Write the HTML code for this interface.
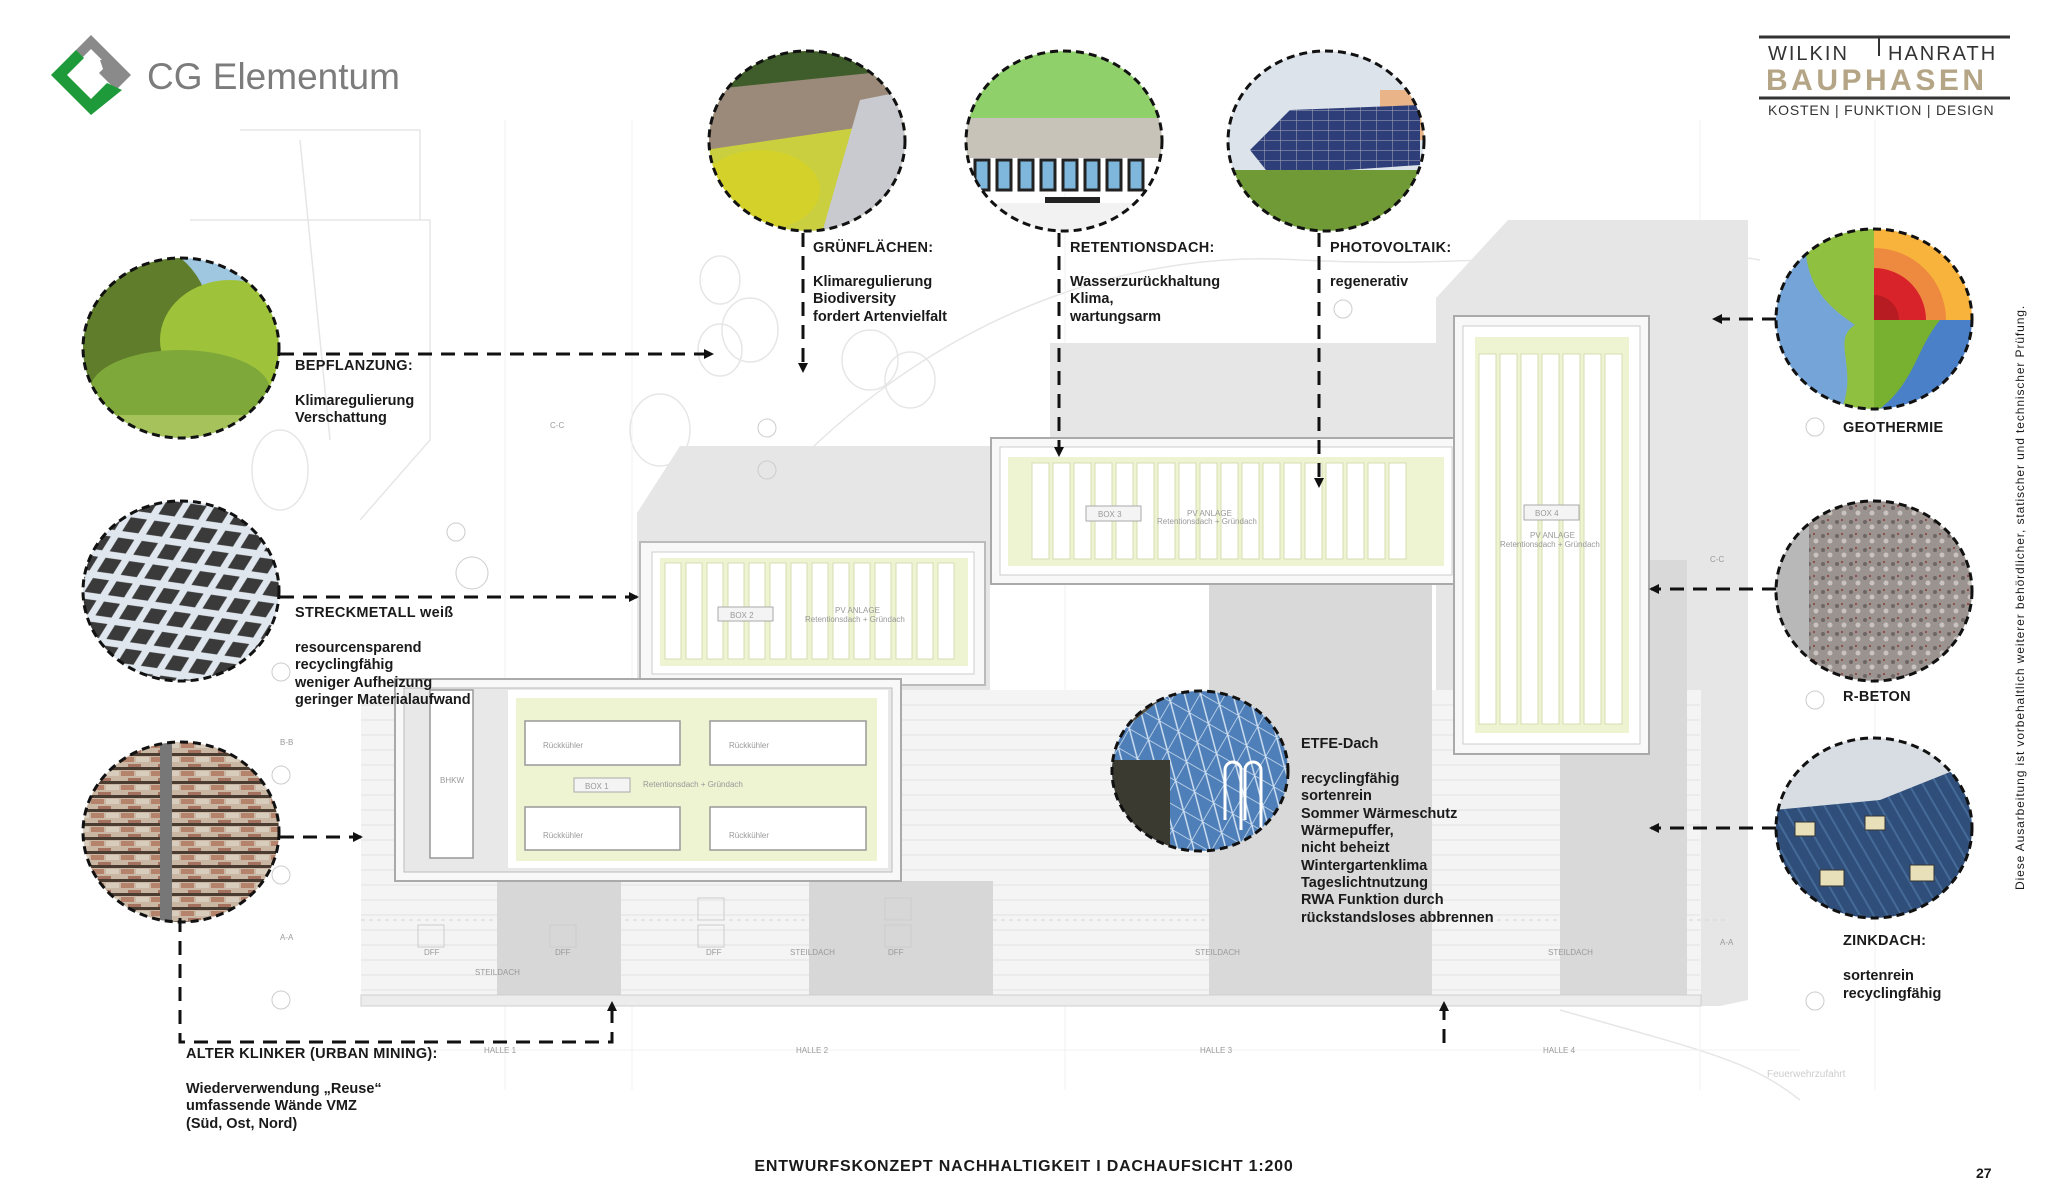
<!DOCTYPE html>
<html><head><meta charset="utf-8"><style>
html,body{margin:0;padding:0;background:#fff;}
svg{display:block}
text{font-family:"Liberation Sans",sans-serif;}
.t{font-size:14.5px;font-weight:bold;fill:#1a1a1a}
.h{font-size:14.5px;font-weight:bold;fill:#1a1a1a;letter-spacing:0.3px}
.d{stroke:#111;stroke-width:3;stroke-dasharray:14 9;fill:none}
.c{fill:none;stroke:#111;stroke-width:3;stroke-dasharray:8 5}
.g{font-size:8px;fill:#999}
</style></head><body>
<svg width="2048" height="1195" viewBox="0 0 2048 1195" xmlns="http://www.w3.org/2000/svg">
<defs>
<marker id="a" markerWidth="10" markerHeight="10" refX="8" refY="5" orient="auto" markerUnits="userSpaceOnUse"><path d="M0,0 L10,5 L0,10 z" fill="#111"/></marker>
<pattern id="mesh" width="40" height="26" patternUnits="userSpaceOnUse" patternTransform="rotate(-25)"><rect width="40" height="26" fill="#3a3a3a"/><path d="M0,13 L20,0 L40,13 L20,26 Z" fill="none" stroke="#dfe6ee" stroke-width="7"/></pattern>
<pattern id="brick" width="30" height="14" patternUnits="userSpaceOnUse"><rect width="30" height="14" fill="#c9b7a3"/><rect x="1" y="1" width="13" height="5" fill="#b5826c"/><rect x="16" y="1" width="13" height="5" fill="#d8ccbd"/><rect x="8" y="8" width="13" height="5" fill="#a67260"/><rect x="0" y="11" width="30" height="3" fill="#4a3c30"/></pattern>
<pattern id="pv" width="16" height="10" patternUnits="userSpaceOnUse"><rect width="16" height="10" fill="#2d3e78"/><path d="M0,0H16M0,0V10" stroke="#aab" stroke-width="1"/></pattern>
<pattern id="conc" width="14" height="14" patternUnits="userSpaceOnUse"><rect width="14" height="14" fill="#9a9390"/><circle cx="3" cy="4" r="2" fill="#6e6664"/><circle cx="10" cy="9" r="2.5" fill="#c9c3bf"/><circle cx="8" cy="2" r="1" fill="#8a3a33"/></pattern>
<pattern id="zinc" width="12" height="12" patternUnits="userSpaceOnUse" patternTransform="rotate(-30)"><rect width="12" height="12" fill="#2f4f7a"/><rect width="2" height="12" fill="#456a97"/></pattern>
<pattern id="glass" width="22" height="22" patternUnits="userSpaceOnUse" patternTransform="rotate(30)"><rect width="22" height="22" fill="#4f7fb8"/><path d="M0,0H22M0,0V22M0,0L22,22" stroke="#cfe0f2" stroke-width="1.5"/></pattern>
<clipPath id="c1"><ellipse cx="181" cy="348" rx="98" ry="90"/></clipPath>
<clipPath id="c2"><ellipse cx="181" cy="591" rx="98" ry="90"/></clipPath>
<clipPath id="c3"><ellipse cx="181" cy="832" rx="98" ry="90"/></clipPath>
<clipPath id="c4"><ellipse cx="807" cy="141" rx="98" ry="90"/></clipPath>
<clipPath id="c5"><ellipse cx="1064" cy="141" rx="98" ry="90"/></clipPath>
<clipPath id="c6"><ellipse cx="1326" cy="141" rx="98" ry="90"/></clipPath>
<clipPath id="c7"><ellipse cx="1874" cy="319" rx="98" ry="90"/></clipPath>
<clipPath id="c8"><ellipse cx="1874" cy="591" rx="98" ry="90"/></clipPath>
<clipPath id="c9"><ellipse cx="1874" cy="828" rx="98" ry="90"/></clipPath>
<clipPath id="c10"><ellipse cx="1200" cy="771" rx="88" ry="80"/></clipPath>
</defs>

<g stroke="#e6e6e6" fill="none" stroke-width="1.5">
<path d="M190,220 L430,220 L430,440 L360,520"/><path d="M300,140 L330,440"/>
<path d="M240,130 L420,130 L420,220"/>
<path d="M780,480 C950,300 1150,250 1300,260 C1500,270 1650,240 1760,260"/>
<ellipse cx="750" cy="330" rx="28" ry="32"/><ellipse cx="720" cy="350" rx="22" ry="26"/><ellipse cx="870" cy="360" rx="28" ry="30"/><ellipse cx="910" cy="380" rx="25" ry="28"/>
<ellipse cx="660" cy="430" rx="30" ry="36"/><ellipse cx="280" cy="470" rx="28" ry="40"/><ellipse cx="720" cy="280" rx="20" ry="24"/>
<path d="M1560,1010 C1700,1050 1750,1060 1800,1100"/>
</g>
<g stroke="#f0f0f0" stroke-width="1"><path d="M505,120V1090M632,120V1090M1065,120V1090M1700,120V1090M1875,120V1090M361,1050H1800"/></g>

<polygon points="680,446 1050,446 1050,343 1436,343 1436,298 1508,220 1748,220 1748,1000 1720,1006 1436,1006 1436,580 990,580 990,690 637,690 637,513" fill="#e6e6e6"/>
<rect x="361" y="690" width="1340" height="316" fill="#f4f4f4"/>
<g stroke="#e2e2e2" stroke-width="1">
<path d="M361,705H1700M361,720H1700M361,735H1700M361,750H1700M361,765H1700M361,780H1700M361,795H1700M361,810H1700M361,825H1700M361,840H1700M361,855H1700M361,870H1700M361,885H1700M361,900H1700M361,915H1700M361,930H1700M361,945H1700M361,960H1700M361,975H1700M361,990H1700"/>
</g>
<rect x="497" y="881" width="124" height="125" fill="#d7d7d7"/>
<rect x="809" y="881" width="184" height="125" fill="#d7d7d7"/>
<rect x="1209" y="560" width="223" height="446" fill="#d9d9d9"/>
<rect x="1560" y="560" width="127" height="446" fill="#d9d9d9"/>
<rect x="361" y="995" width="1340" height="11" fill="#ececec" stroke="#cfcfcf"/>
<path d="M361,920H1730" stroke="#d5d5d5" stroke-dasharray="4 4"/>
<g class="g"><text x="280" y="940">A-A</text><text x="280" y="745">B-B</text><text x="550" y="428">C-C</text><text x="1710" y="562">C-C</text><text x="1720" y="945">A-A</text>
<text x="475" y="975">STEILDACH</text><text x="790" y="955">STEILDACH</text><text x="1195" y="955">STEILDACH</text><text x="1548" y="955">STEILDACH</text>
<text x="424" y="955">DFF</text><text x="555" y="955">DFF</text><text x="706" y="955">DFF</text><text x="888" y="955">DFF</text>
<text x="484" y="1053">HALLE 1</text><text x="796" y="1053">HALLE 2</text><text x="1200" y="1053">HALLE 3</text><text x="1543" y="1053">HALLE 4</text>
<text x="1767" y="1077" font-size="10" fill="#ccc">Feuerwehrzufahrt</text></g>
<g fill="none" stroke="#ccc"><rect x="418" y="925" width="26" height="22"/><rect x="550" y="925" width="26" height="22"/><rect x="698" y="925" width="26" height="22"/><rect x="885" y="925" width="26" height="22"/><rect x="698" y="898" width="26" height="22"/><rect x="885" y="898" width="26" height="22"/>
<circle cx="281" cy="1000" r="9"/><circle cx="281" cy="875" r="9"/><circle cx="281" cy="775" r="9"/><circle cx="281" cy="672" r="9"/><circle cx="456" cy="532" r="9"/><circle cx="767" cy="470" r="9"/><circle cx="767" cy="428" r="9"/><circle cx="1815" cy="427" r="9"/><circle cx="1815" cy="700" r="9"/><circle cx="1815" cy="1001" r="9"/><circle cx="1343" cy="309" r="9"/><circle cx="472" cy="573" r="16"/></g>

<rect x="640" y="542" width="345" height="143" fill="#f8f8f8" stroke="#bbb" stroke-width="2"/>
<rect x="652" y="552" width="322" height="122" fill="#fff" stroke="#ccc"/>
<rect x="660" y="558" width="308" height="108" fill="#eef3d2"/>
<g fill="#fff" stroke="#d7dcb0"><rect x="665" y="563" width="16" height="96"/><rect x="686" y="563" width="16" height="96"/><rect x="707" y="563" width="16" height="96"/><rect x="728" y="563" width="16" height="96"/><rect x="749" y="563" width="16" height="96"/><rect x="770" y="563" width="16" height="96"/><rect x="791" y="563" width="16" height="96"/><rect x="812" y="563" width="16" height="96"/><rect x="833" y="563" width="16" height="96"/><rect x="854" y="563" width="16" height="96"/><rect x="875" y="563" width="16" height="96"/><rect x="896" y="563" width="16" height="96"/><rect x="917" y="563" width="16" height="96"/><rect x="938" y="563" width="16" height="96"/></g>
<rect x="718" y="607" width="55" height="14" fill="#f4f4f4" stroke="#aaa"/><text x="730" y="618" class="g" font-size="10">BOX 2</text>
<text x="835" y="613" class="g">PV ANLAGE</text><text x="805" y="622" class="g">Retentionsdach + Gründach</text>

<rect x="395" y="679" width="506" height="202" fill="#f8f8f8" stroke="#aaa" stroke-width="2"/>
<rect x="404" y="688" width="488" height="184" fill="#e8e8e8" stroke="#bbb"/>
<rect x="508" y="690" width="380" height="178" fill="#fff"/>
<rect x="516" y="698" width="361" height="163" fill="#eef3d2"/>
<g fill="#fff" stroke="#999" stroke-width="1.5"><rect x="525" y="721" width="155" height="44"/><rect x="710" y="721" width="156" height="44"/><rect x="525" y="807" width="155" height="43"/><rect x="710" y="807" width="156" height="43"/><rect x="430" y="690" width="43" height="168"/></g>
<g class="g" font-size="9"><text x="543" y="748">Rückkühler</text><text x="729" y="748">Rückkühler</text><text x="543" y="838">Rückkühler</text><text x="729" y="838">Rückkühler</text><text x="440" y="783">BHKW</text><text x="643" y="787">Retentionsdach + Gründach</text></g>
<rect x="574" y="778" width="56" height="14" fill="#f4f4f4" stroke="#aaa"/><text x="585" y="789" class="g" font-size="10">BOX 1</text>

<rect x="991" y="438" width="470" height="146" fill="#f8f8f8" stroke="#aaa" stroke-width="2"/>
<rect x="1000" y="447" width="452" height="128" fill="#fff" stroke="#ccc"/>
<rect x="1008" y="457" width="436" height="109" fill="#eef3d2"/>
<g fill="#fff" stroke="#d7dcb0"><rect x="1032" y="463" width="17" height="96"/><rect x="1053" y="463" width="17" height="96"/><rect x="1074" y="463" width="17" height="96"/><rect x="1095" y="463" width="17" height="96"/><rect x="1116" y="463" width="17" height="96"/><rect x="1137" y="463" width="17" height="96"/><rect x="1158" y="463" width="17" height="96"/><rect x="1179" y="463" width="17" height="96"/><rect x="1200" y="463" width="17" height="96"/><rect x="1221" y="463" width="17" height="96"/><rect x="1242" y="463" width="17" height="96"/><rect x="1263" y="463" width="17" height="96"/><rect x="1284" y="463" width="17" height="96"/><rect x="1305" y="463" width="17" height="96"/><rect x="1326" y="463" width="17" height="96"/><rect x="1347" y="463" width="17" height="96"/><rect x="1368" y="463" width="17" height="96"/><rect x="1389" y="463" width="17" height="96"/></g>
<rect x="1086" y="506" width="55" height="15" fill="#f4f4f4" stroke="#aaa"/><text x="1098" y="517" class="g" font-size="10">BOX 3</text>
<text x="1187" y="516" class="g">PV ANLAGE</text><text x="1157" y="524" class="g">Retentionsdach + Gründach</text>

<rect x="1454" y="316" width="195" height="438" fill="#f8f8f8" stroke="#aaa" stroke-width="2"/>
<rect x="1463" y="326" width="177" height="418" fill="#fff" stroke="#ccc"/>
<rect x="1475" y="337" width="154" height="396" fill="#eef3d2"/>
<g fill="#fff" stroke="#d7dcb0"><rect x="1479" y="354" width="17" height="370"/><rect x="1500" y="354" width="17" height="370"/><rect x="1521" y="354" width="17" height="370"/><rect x="1542" y="354" width="17" height="370"/><rect x="1563" y="354" width="17" height="370"/><rect x="1584" y="354" width="17" height="370"/><rect x="1605" y="354" width="17" height="370"/></g>
<rect x="1524" y="505" width="55" height="15" fill="#f4f4f4" stroke="#aaa"/><text x="1535" y="516" class="g" font-size="10">BOX 4</text>
<text x="1530" y="538" class="g">PV ANLAGE</text><text x="1500" y="547" class="g">Retentionsdach + Gründach</text>

<polygon points="91,35 131,75 116,90 99,73 107,65 91,49 77,63 70,56" fill="#8a8a8a"/>
<polygon points="51,75 76,50 84,58 67,75 91,99 107,83 122,90 91,115" fill="#1e9a3a"/>
<polygon points="100,60 116,60 116,72 104,72" fill="#8a8a8a"/>
<text x="147" y="89" font-size="37" fill="#7c7c7c" font-family="Liberation Sans Narrow, Liberation Sans, sans-serif">CG Elementum</text>

<path d="M1759,37H2010M1759,98H2010" stroke="#333" stroke-width="3"/>
<path d="M1879,37V56" stroke="#333" stroke-width="2"/>
<text x="1768" y="60" font-size="20" fill="#333" letter-spacing="2">WILKIN</text>
<text x="1888" y="60" font-size="20" fill="#333" letter-spacing="2">HANRATH</text>
<text x="1766" y="90" font-size="30" font-weight="bold" fill="#b5a587" letter-spacing="3.5">BAUPHASEN</text>
<text x="1768" y="115" font-size="14" fill="#333" letter-spacing="0.8">KOSTEN  |  FUNKTION  |  DESIGN</text>

<g clip-path="url(#c1)"><rect x="80" y="255" width="205" height="190" fill="#9fc8e0"/><ellipse cx="130" cy="320" rx="80" ry="80" fill="#5f7d2a"/><ellipse cx="230" cy="340" rx="70" ry="60" fill="#9ec33a"/><ellipse cx="180" cy="390" rx="90" ry="40" fill="#7fa83a"/><rect x="80" y="415" width="205" height="30" fill="#a6c25a"/></g>
<g clip-path="url(#c2)"><rect x="80" y="500" width="205" height="190" fill="url(#mesh)"/></g>
<g clip-path="url(#c3)"><rect x="80" y="740" width="205" height="190" fill="url(#brick)"/><rect x="160" y="740" width="12" height="190" fill="#777"/></g>
<g clip-path="url(#c4)"><rect x="705" y="48" width="205" height="190" fill="#c9cf3e"/><rect x="705" y="48" width="205" height="40" fill="#3f5d2a"/><path d="M705,90 L900,70 L910,120 L705,150Z" fill="#9b8a7a"/><path d="M860,100 L910,90 L910,240 L820,240Z" fill="#c9c9d0"/><ellipse cx="760" cy="190" rx="60" ry="40" fill="#d4d22a"/></g>
<g clip-path="url(#c5)"><rect x="960" y="48" width="210" height="70" fill="#8fd06a"/><rect x="960" y="118" width="210" height="40" fill="#c8c3b8"/><rect x="960" y="158" width="210" height="35" fill="#fff"/><g fill="#7fb6dc" stroke="#222" stroke-width="3"><rect x="975" y="160" width="14" height="30"/><rect x="997" y="160" width="14" height="30"/><rect x="1019" y="160" width="14" height="30"/><rect x="1041" y="160" width="14" height="30"/><rect x="1063" y="160" width="14" height="30"/><rect x="1085" y="160" width="14" height="30"/><rect x="1107" y="160" width="14" height="30"/><rect x="1129" y="160" width="14" height="30"/></g><rect x="1045" y="197" width="55" height="6" fill="#222"/><rect x="960" y="203" width="210" height="30" fill="#f2f2f2"/></g>
<g clip-path="url(#c6)"><rect x="1225" y="48" width="205" height="190" fill="#dce3ea"/><rect x="1380" y="90" width="60" height="50" fill="#f0a060" opacity="0.7"/><polygon points="1250,150 1290,110 1420,105 1420,165 1270,175" fill="url(#pv)"/><rect x="1225" y="170" width="205" height="70" fill="#6f9a36"/></g>
<g clip-path="url(#c7)">
<rect x="1774" y="228" width="100" height="185" fill="#75a4d8"/>
<path d="M1806,228 L1874,228 L1874,413 L1840,413 C1860,370 1830,340 1855,325 C1835,310 1800,290 1806,228Z" fill="#8fc040"/>
<rect x="1874" y="320" width="100" height="93" fill="#4a80c8"/>
<path d="M1874,320 H1940 C1915,350 1915,385 1874,413Z" fill="#78b030"/>
<path d="M1874,320 V220 A100,100 0 0 1 1974,320 Z" fill="#f8b33c"/>
<path d="M1874,320 V248 A72,72 0 0 1 1946,320 Z" fill="#ee8a3f"/>
<path d="M1874,320 V268 A52,52 0 0 1 1926,320 Z" fill="#d9232a"/>
<path d="M1874,320 V295 A25,25 0 0 1 1899,320 Z" fill="#b61c22"/>
</g>
<g clip-path="url(#c8)"><rect x="1774" y="500" width="205" height="190" fill="url(#conc)"/><rect x="1774" y="500" width="35" height="190" fill="#b8b8b8"/></g>
<g clip-path="url(#c9)"><rect x="1774" y="737" width="205" height="190" fill="#d8dde3"/><polygon points="1774,810 1880,800 1980,760 1980,930 1774,930" fill="url(#zinc)"/><g fill="#e8e0b8" stroke="#333"><rect x="1795" y="822" width="20" height="14"/><rect x="1865" y="816" width="20" height="14"/><rect x="1820" y="870" width="24" height="16"/><rect x="1910" y="865" width="24" height="16"/></g></g>
<g clip-path="url(#c10)"><rect x="1110" y="690" width="180" height="165" fill="url(#glass)"/><polygon points="1110,740 1160,700 1110,700" fill="#5a5040"/><rect x="1110" y="760" width="60" height="95" fill="#3b3a30"/><path d="M1225,820 V770 a8,8 0 0 1 16,0 V830 M1245,820 V770 a8,8 0 0 1 16,0 V830" stroke="#fff" stroke-width="3" fill="none"/></g>
<g class="c"><ellipse cx="181" cy="348" rx="98" ry="90"/><ellipse cx="181" cy="591" rx="98" ry="90"/><ellipse cx="181" cy="832" rx="98" ry="90"/><ellipse cx="807" cy="141" rx="98" ry="90"/><ellipse cx="1064" cy="141" rx="98" ry="90"/><ellipse cx="1326" cy="141" rx="98" ry="90"/><ellipse cx="1874" cy="319" rx="98" ry="90"/><ellipse cx="1874" cy="591" rx="98" ry="90"/><ellipse cx="1874" cy="828" rx="98" ry="90"/><ellipse cx="1200" cy="771" rx="88" ry="80"/></g>

<path class="d" d="M280,354 H712" marker-end="url(#a)"/>
<path class="d" d="M280,597 H637" marker-end="url(#a)"/>
<path class="d" d="M280,837 H361" marker-end="url(#a)"/>
<path class="d" d="M180,918 V1042 H612 V1003" marker-end="url(#a)"/>
<path class="d" d="M803,233 V371" marker-end="url(#a)"/>
<path class="d" d="M1059,233 V455" marker-end="url(#a)"/>
<path class="d" d="M1319,233 V486" marker-end="url(#a)"/>
<path class="d" d="M1776,319 H1714" marker-end="url(#a)"/>
<path class="d" d="M1776,589 H1651" marker-end="url(#a)"/>
<path class="d" d="M1776,828 H1651" marker-end="url(#a)"/>
<path class="d" d="M1444,1043 V1003" marker-end="url(#a)"/>

<text class="h" x="295" y="370">BEPFLANZUNG:</text>
<text class="t" x="295" y="405">Klimaregulierung</text><text class="t" x="295" y="422">Verschattung</text>
<text class="h" x="295" y="617">STRECKMETALL weiß</text>
<text class="t" x="295" y="652">resourcensparend</text><text class="t" x="295" y="669">recyclingfähig</text><text class="t" x="295" y="687">weniger Aufheizung</text><text class="t" x="295" y="704">geringer Materialaufwand</text>
<text class="h" x="186" y="1058">ALTER KLINKER (URBAN MINING):</text>
<text class="t" x="186" y="1093">Wiederverwendung „Reuse“</text><text class="t" x="186" y="1110">umfassende Wände VMZ</text><text class="t" x="186" y="1128">(Süd, Ost, Nord)</text>
<text class="h" x="813" y="252">GRÜNFLÄCHEN:</text>
<text class="t" x="813" y="286">Klimaregulierung</text><text class="t" x="813" y="303">Biodiversity</text><text class="t" x="813" y="321">fordert Artenvielfalt</text>
<text class="h" x="1070" y="252">RETENTIONSDACH:</text>
<text class="t" x="1070" y="286">Wasserzurückhaltung</text><text class="t" x="1070" y="303">Klima,</text><text class="t" x="1070" y="321">wartungsarm</text>
<text class="h" x="1330" y="252">PHOTOVOLTAIK:</text>
<text class="t" x="1330" y="286">regenerativ</text>
<text class="h" x="1843" y="432">GEOTHERMIE</text>
<text class="h" x="1843" y="701">R-BETON</text>
<text class="h" x="1843" y="945">ZINKDACH:</text>
<text class="t" x="1843" y="980">sortenrein</text><text class="t" x="1843" y="998">recyclingfähig</text>
<text class="t" x="1301" y="748">ETFE-Dach</text>
<text class="t" x="1301" y="783">recyclingfähig</text><text class="t" x="1301" y="800">sortenrein</text><text class="t" x="1301" y="818">Sommer Wärmeschutz</text><text class="t" x="1301" y="835">Wärmepuffer,</text><text class="t" x="1301" y="852">nicht beheizt</text><text class="t" x="1301" y="870">Wintergartenklima</text><text class="t" x="1301" y="887">Tageslichtnutzung</text><text class="t" x="1301" y="904">RWA Funktion durch</text><text class="t" x="1301" y="922">rückstandsloses abbrennen</text>

<text x="1024" y="1171" text-anchor="middle" font-size="16" font-weight="bold" fill="#1a1a1a" letter-spacing="0.8">ENTWURFSKONZEPT NACHHALTIGKEIT I DACHAUFSICHT 1:200</text>
<text x="1976" y="1178" font-size="14" font-weight="bold" fill="#1a1a1a">27</text>
<text transform="translate(2024,890) rotate(-90)" font-size="12" fill="#1a1a1a" letter-spacing="0.9">Diese Ausarbeitung ist vorbehaltlich weiterer behördlicher, statischer und technischer Prüfung.</text>
</svg>
</body></html>
